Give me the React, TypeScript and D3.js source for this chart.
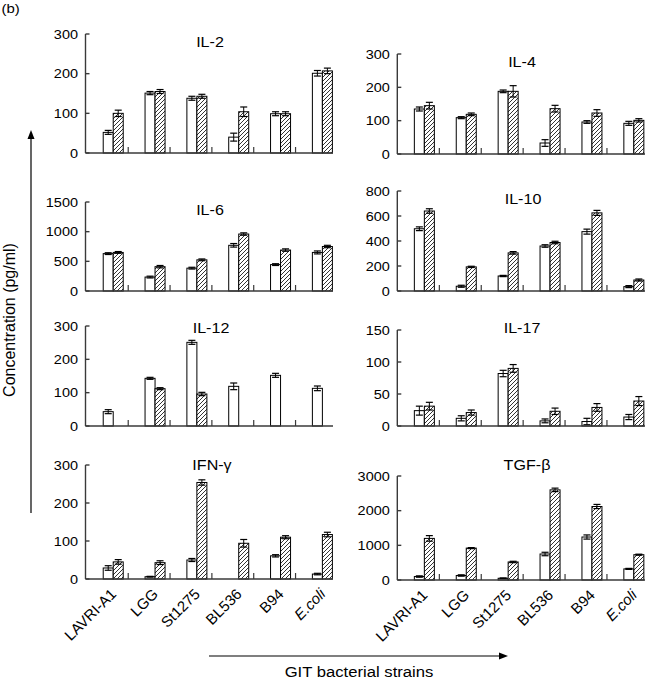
import React from 'react'
import * as d3 from 'd3'

// six GIT strains, each cytokine has two series: [mean, error]
const STRAINS = ['LAVRI-A1', 'LGG', 'St1275', 'BL536', 'B94', 'E.coli']

const IL2_PLAIN = [[52, 5], [151, 4], [138, 5], [40, 10], [99, 5], [201, 7]]
const IL2_HATCH = [[100, 8], [155, 5], [143, 5], [104, 12], [99, 5], [207, 7]]

const IL4_PLAIN = [[135, 6], [109, 3], [188, 4], [33, 10], [96, 4], [92, 6]]
const IL4_HATCH = [[145, 10], [119, 4], [188, 17], [136, 10], [123, 10], [101, 5]]

const IL6_PLAIN = [[630, 15], [235, 15], [385, 15], [770, 30], [445, 15], [650, 25]]
const IL6_HATCH = [[650, 15], [410, 20], [525, 15], [960, 20], [690, 20], [750, 20]]

const IL10_PLAIN = [[498, 15], [38, 8], [120, 5], [360, 10], [475, 20], [35, 8]]
const IL10_HATCH = [[640, 18], [193, 5], [305, 10], [388, 10], [625, 20], [88, 8]]

const IL12_PLAIN = [[43, 6], [143, 3], [251, 6], [119, 10], [152, 6], [113, 7]]
const IL12_HATCH = [null, [112, 3], [96, 5], null, null, null]

const IL17_PLAIN = [[24, 7], [12, 4], [82, 5], [8, 3], [7, 5], [14, 4]]
const IL17_HATCH = [[31, 6], [21, 4], [90, 6], [23, 5], [29, 6], [39, 7]]

const IFN_PLAIN = [[29, 6], [6, 1], [50, 4], null, [61, 3], [13, 2]]
const IFN_HATCH = [[45, 6], [43, 5], [254, 7], [94, 10], [110, 4], [117, 6]]

const TGF_PLAIN = [[100, 20], [130, 20], [50, 10], [750, 50], [1240, 60], [320, 15]]
const TGF_HATCH = [[1200, 80], [920, 15], [520, 20], [2600, 50], [2120, 60], [730, 15]]

const PANELS = [
  {title: 'IL-2', plain: IL2_PLAIN, hatch: IL2_HATCH, max: 300, step: 100, col: 0, top: 34, bottom: 153, tx: 210, ty: 47},
  {title: 'IL-4', plain: IL4_PLAIN, hatch: IL4_HATCH, max: 300, step: 100, col: 1, top: 54, bottom: 154, tx: 522, ty: 67},
  {title: 'IL-6', plain: IL6_PLAIN, hatch: IL6_HATCH, max: 1500, step: 500, col: 0, top: 202, bottom: 291, tx: 210, ty: 215},
  {title: 'IL-10', plain: IL10_PLAIN, hatch: IL10_HATCH, max: 800, step: 200, col: 1, top: 191, bottom: 291, tx: 523, ty: 204},
  {title: 'IL-12', plain: IL12_PLAIN, hatch: IL12_HATCH, max: 300, step: 100, col: 0, top: 326, bottom: 426, tx: 211, ty: 333},
  {title: 'IL-17', plain: IL17_PLAIN, hatch: IL17_HATCH, max: 150, step: 50, col: 1, top: 330, bottom: 426, tx: 522, ty: 333},
  {title: 'IFN-γ', plain: IFN_PLAIN, hatch: IFN_HATCH, max: 300, step: 100, col: 0, top: 465, bottom: 579, tx: 212, ty: 470, labels: true},
  {title: 'TGF-β', plain: TGF_PLAIN, hatch: TGF_HATCH, max: 3000, step: 1000, col: 1, top: 476, bottom: 580, tx: 527, ty: 470, labels: true},
]

const FONT = 'Liberation Sans, Arial, Helvetica, sans-serif'
const SX = 1.15 // the figure's text is a bit wide
const AXIS = '#3a3a3a'

const COLS = [
  {axisX: 85.5, range: [92.3, 343.3], end: 333},
  {axisX: 397.3, range: [403.4, 654.8], end: 645},
]

function Txt({x, y, size, anchor = 'start', children, style = {}}) {
  return (
    <text transform={`translate(${x},${y}) scale(${SX},1)`} fontSize={size}
      textAnchor={anchor} fontFamily={FONT} fill="#000" style={style}>
      {children}
    </text>
  )
}

function Panel({p}) {
  const col = COLS[p.col]
  const x = d3.scaleBand().domain(STRAINS).range(col.range)
  const y = d3.scaleLinear().domain([0, p.max]).range([p.bottom, p.top])
  const ticks = d3.range(0, p.max + 1, p.step)
  const bw = 10
  const center = s => x(s) + x.bandwidth() / 2

  const bar = (d, s, kind) => {
    if (!d) return null
    const [v, e] = d
    const x0 = kind === 'plain' ? center(s) - bw : center(s)
    const xm = x0 + bw / 2
    return (
      <g key={s + kind}>
        <rect x={x0} y={y(v)} width={bw} height={y(0) - y(v)}
          fill={kind === 'plain' ? '#fff' : 'url(#hatch)'} stroke="#000" strokeWidth={1} />
        <line x1={xm} x2={xm} y1={y(v - e)} y2={y(v + e)} stroke="#000" strokeWidth={1} />
        <line x1={xm - 3.5} x2={xm + 3.5} y1={y(v + e)} y2={y(v + e)} stroke="#000" strokeWidth={1.2} />
        <line x1={xm - 3.5} x2={xm + 3.5} y1={y(v - e)} y2={y(v - e)} stroke="#000" strokeWidth={1.2} />
      </g>
    )
  }

  return (
    <g>
      {STRAINS.map((s, i) => bar(p.plain[i], s, 'plain'))}
      {STRAINS.map((s, i) => bar(p.hatch[i], s, 'hatch'))}

      {/* y axis */}
      <line x1={col.axisX} x2={col.axisX} y1={y(p.max)} y2={y(0)} stroke={AXIS} strokeWidth={1.4} />
      {ticks.map(t => (
        <g key={t}>
          <line x1={col.axisX} x2={col.axisX + 4} y1={y(t)} y2={y(t)} stroke={AXIS} strokeWidth={1.4} />
          <Txt x={col.axisX - 7.5} y={y(t) + 4.5} size={12.6} anchor="end">{t}</Txt>
        </g>
      ))}

      {/* x axis, ticks sit between the groups */}
      <line x1={col.axisX} x2={col.end} y1={y(0)} y2={y(0)} stroke={AXIS} strokeWidth={1.4} />
      {STRAINS.slice(0, -1).map(s => (
        <line key={s} x1={center(s) + 15} x2={center(s) + 15} y1={y(0)} y2={y(0) - 6}
          stroke={AXIS} strokeWidth={1.2} />
      ))}

      <Txt x={p.tx} y={p.ty} size={14} anchor="middle">{p.title}</Txt>

      {p.labels && STRAINS.map(s => (
        <text key={s} transform={`translate(${center(s) + 4},${y(0) + 16}) rotate(-45)`}
          fontSize={15} textAnchor="end" fontFamily={FONT}
          fontStyle={s === 'E.coli' ? 'italic' : 'normal'}>{s}</text>
      ))}
    </g>
  )
}

export default function App() {
  return (
    <svg width={648} height={682} style={{display: 'block', position: 'absolute', left: 0, top: 0, background: '#fff'}}>
      <defs>
        <pattern id="hatch" patternUnits="userSpaceOnUse" width="4" height="4">
          <rect width="4" height="4" fill="#fff" />
          <path d="M-1,1 l2,-2 M0,4 l4,-4 M3,5 l2,-2" stroke="#000" strokeWidth="0.8" />
        </pattern>
      </defs>
      <rect width={648} height={682} fill="#fff" />

      <Txt x={1.5} y={12.5} size={13}>(b)</Txt>

      {PANELS.map(p => <Panel key={p.title} p={p} />)}

      {/* vertical axis title and arrow */}
      <text transform="translate(14.5,320) rotate(-90)" fontSize={16} textAnchor="middle" fontFamily={FONT}>
        Concentration (pg/ml)
      </text>
      <line x1={31} x2={31} y1={513} y2={137} stroke="#000" strokeWidth={1.2} />
      <path d="M31,130 L27.5,139 L34.5,139 Z" fill="#000" />

      {/* horizontal arrow and title */}
      <line x1={209} x2={501} y1={656} y2={656} stroke="#000" strokeWidth={1.2} />
      <path d="M508,656 L499,652.5 L499,659.5 Z" fill="#000" />
      <Txt x={359} y={677} size={14.5} anchor="middle">GIT bacterial strains</Txt>
    </svg>
  )
}
